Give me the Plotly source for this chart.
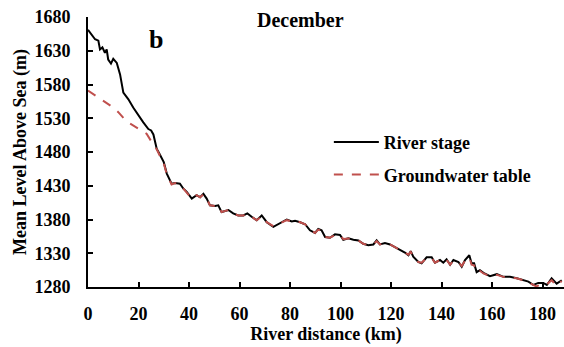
import plotly.graph_objects as go

# River stage along the channel (km downstream, elevation in m)
river_km = [0, 1.2, 2.8, 4.1, 4.75, 5.7, 6.7, 7.4, 8.0, 9.1, 10.0, 11.4, 12.7, 14.0,
            16.0, 17.9, 19.9, 21.9, 23.9, 25.0, 25.9, 27.2, 28.5, 30.0, 31.2, 33.1,
            34.5, 36.4, 37.7, 39.1, 41.1, 43.0, 44.4, 45.7, 47.0, 48.3, 50.3, 51.6,
            52.9, 55.6, 57.5, 59.5, 61.5, 63.1, 64.8, 66.8, 68.8, 70.8, 73.4, 76.0,
            78.7, 80.7, 82.0, 84.0, 86.0, 87.9, 89.9, 91.2, 92.5, 93.9, 95.8, 97.8,
            99.8, 101.1, 103.1, 105.1, 107.1, 109.0, 111.0, 113.0, 114.3, 115.6,
            117.6, 119.6, 121.6, 123.6, 125.5, 126.9, 127.8, 128.8, 130.8, 132.1,
            134.1, 136.1, 137.4, 139.4, 140.7, 142.0, 143.4, 144.7, 146.7, 148.0,
            149.3, 151.0, 151.9, 152.9, 153.9, 155.2, 156.6, 159.2, 161.9, 164.5,
            167.1, 169.8, 172.4, 174.4, 176.4, 178.3, 180.3, 181.7, 183.6, 185.6, 187.6]
river_stage = [1661, 1655, 1647, 1645, 1632, 1635, 1627, 1632, 1617, 1611, 1618, 1612,
               1595, 1568, 1558, 1546, 1534, 1524, 1514, 1512, 1506, 1485, 1476, 1465,
               1448, 1433, 1434, 1433, 1426, 1421, 1411, 1416, 1413, 1418, 1411, 1401,
               1400, 1401, 1391, 1394, 1389, 1386, 1386, 1389, 1384, 1379, 1386, 1376,
               1369, 1375, 1380, 1377, 1378, 1376, 1373, 1364, 1360, 1366, 1364, 1354,
               1353, 1358, 1357, 1350, 1352, 1350, 1349, 1344, 1342, 1343, 1349, 1343,
               1345, 1343, 1339, 1336, 1331, 1327, 1333, 1325, 1317, 1315, 1324, 1324,
               1316, 1320, 1316, 1321, 1313, 1320, 1317, 1310, 1320, 1327, 1315, 1315,
               1302, 1305, 1301, 1296, 1299, 1295, 1295, 1293, 1290, 1288, 1283, 1286,
               1286, 1283, 1293, 1285, 1290]

# Groundwater table along the same reach
gw_km = [0, 2.0, 4.1, 6.0, 8.0, 10.0, 12.0, 14.0, 15.3, 18.0, 20.0, 23.2, 25.2, 27.2,
         28.5, 30.0, 31.2, 33.1, 34.5, 36.4, 37.7, 39.1, 41.1, 43.0, 44.4, 45.7, 47.0,
         48.3, 50.3, 51.6, 52.9, 55.6, 57.5, 59.5, 61.5, 63.1, 64.8, 66.8, 68.8, 70.8,
         73.4, 76.0, 78.7, 80.7, 82.0, 84.0, 86.0, 87.9, 89.9, 91.2, 92.5, 93.9, 95.8,
         97.8, 99.8, 101.1, 103.1, 105.1, 107.1, 109.0, 111.0, 113.0, 114.3, 115.6,
         117.6, 119.6, 121.6, 123.6, 125.5, 126.9, 127.8, 128.8, 130.8, 132.1, 134.1,
         136.1, 137.4, 139.4, 140.7, 142.0, 143.4, 144.7, 146.7, 148.0, 149.3, 151.0,
         151.9, 152.9, 153.9, 155.2, 156.6, 159.2, 161.9, 164.5, 167.1, 169.8, 172.4,
         174.4, 176.4, 177.5, 180.3, 181.7, 183.6, 185.6, 187.6]
gw_table = [1571, 1566, 1561, 1557, 1551, 1546, 1539, 1530, 1525, 1519, 1514, 1507,
            1495, 1484, 1474, 1463, 1447, 1432, 1434, 1432, 1426, 1420, 1411, 1416,
            1413, 1417, 1411, 1401, 1400, 1401, 1391, 1394, 1389, 1386, 1386, 1388,
            1384, 1379, 1385, 1376, 1370, 1375, 1379, 1377, 1378, 1376, 1373, 1365,
            1360, 1365, 1363, 1354, 1353, 1357, 1357, 1351, 1352, 1350, 1349, 1344,
            1342, 1343, 1348, 1343, 1345, 1343, 1339, 1336, 1331, 1328, 1332, 1325,
            1317, 1316, 1323, 1323, 1316, 1320, 1317, 1320, 1313, 1319, 1317, 1311,
            1319, 1324, 1313, 1312, 1302, 1304, 1300, 1296, 1298, 1295, 1294, 1293,
            1290, 1287, 1283, 1281, 1285, 1284, 1290, 1282, 1289]

y_ticks = [1280, 1330, 1380, 1430, 1480, 1530, 1580, 1630, 1680]
x_ticks = [0, 20, 40, 60, 80, 100, 120, 140, 160, 180]

serif = "Liberation Serif, Times New Roman, serif"

fig = go.Figure()
fig.add_trace(go.Scatter(
    x=river_km, y=river_stage, mode="lines", name="River stage",
    legendgroup="a", line=dict(color="black", width=2)))
fig.add_trace(go.Scatter(
    x=gw_km, y=gw_table, mode="lines", name="Groundwater table",
    legendgroup="b", line=dict(color="#C0504D", width=2, dash="dash")))

axis_common = dict(
    showline=True, linecolor="black", linewidth=2, mirror=False,
    ticks="inside", ticklen=5, tickwidth=2, tickcolor="black",
    showgrid=False, zeroline=False,
    tickfont=dict(family=serif, size=18, color="black", weight="bold"),
)

fig.update_xaxes(
    range=[0, 188.5], tickvals=x_ticks, ticklabelstandoff=9,
    title=dict(text="<b>River distance (km)</b>", standoff=0,
               font=dict(family=serif, size=18, color="black")),
    **axis_common)
fig.update_yaxes(
    range=[1280, 1680], tickvals=y_ticks, ticklabelstandoff=12,
    title=dict(text="<b>Mean Level Above Sea (m)</b>", standoff=3,
               font=dict(family=serif, size=18, color="black")),
    **axis_common)

fig.update_layout(
    width=564, height=347,
    margin=dict(l=88, r=0, t=17, b=60, autoexpand=False),
    paper_bgcolor="white", plot_bgcolor="white",
    showlegend=True,
    legend=dict(x=0.506, y=0.604, xanchor="left", yanchor="top",
                bgcolor="rgba(0,0,0,0)", tracegroupgap=6, itemwidth=45,
                font=dict(family=serif, size=18, color="black", weight="bold")),
    annotations=[
        dict(text="<b>December</b>", x=0.447, y=0.989, xref="paper", yref="paper",
             xanchor="center", yanchor="middle", showarrow=False,
             font=dict(family=serif, size=20, color="black")),
        dict(text="<b>b</b>", x=0.143, y=0.918, xref="paper", yref="paper",
             xanchor="center", yanchor="middle", showarrow=False,
             font=dict(family=serif, size=26, color="black")),
    ],
)

fig.write_html("out.html")
